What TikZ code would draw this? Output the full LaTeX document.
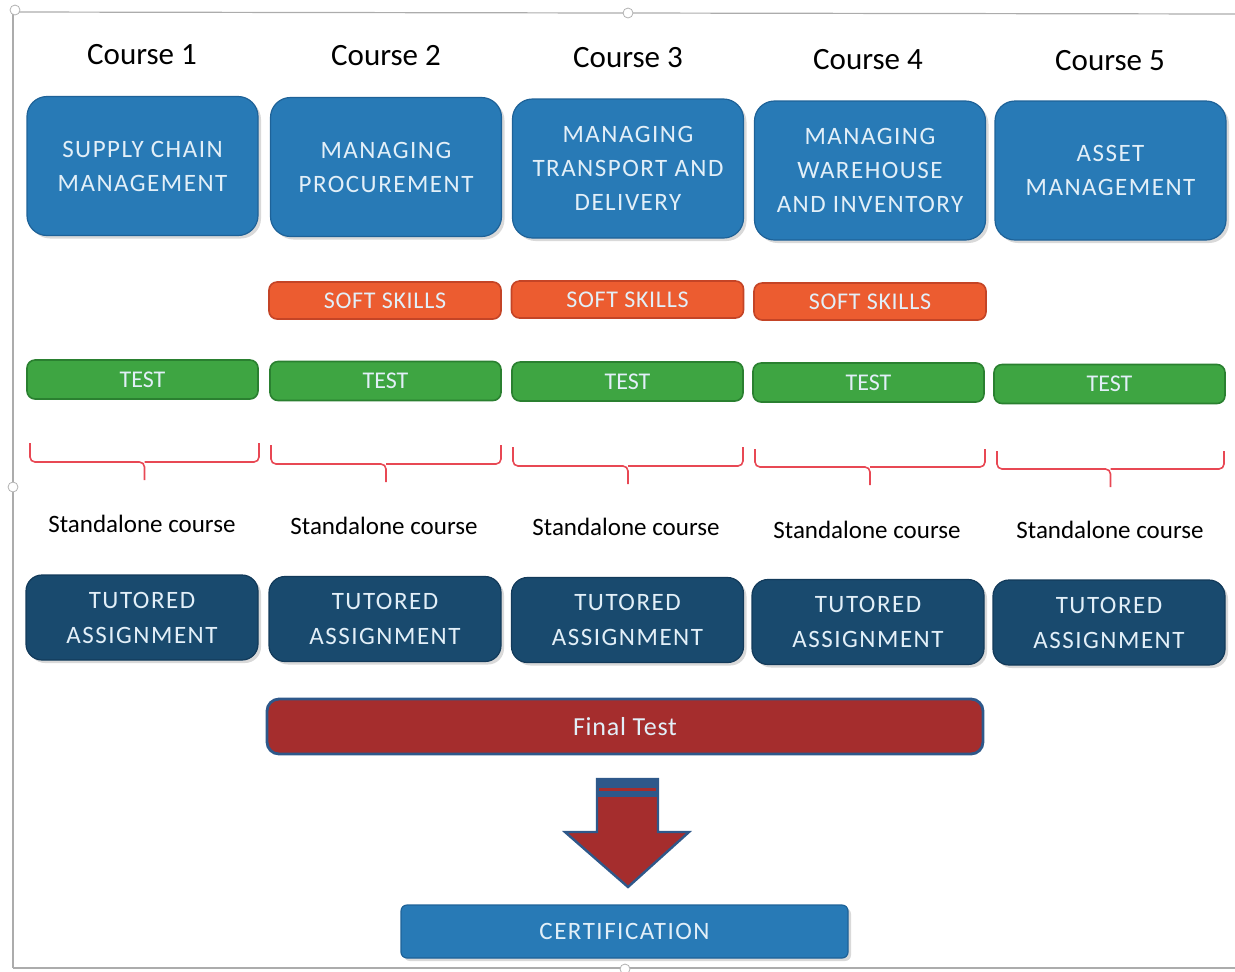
\documentclass[tikz,border=0pt]{standalone}
\usepackage{fontspec}
\setmainfont{Carlito}
\newfontfamily\capsfam[LetterSpace=6]{Carlito}
\newfontfamily\capsfamb[LetterSpace=3]{Carlito}
\usetikzlibrary{shadows}
\definecolor{cblue}{RGB}{40,122,182}
\definecolor{cblueb}{RGB}{30,98,152}
\definecolor{cnavy}{RGB}{25,74,110}
\definecolor{cnavyb}{RGB}{18,58,90}
\definecolor{corange}{RGB}{236,92,48}
\definecolor{corangeb}{RGB}{196,68,38}
\definecolor{cgreen}{RGB}{62,165,66}
\definecolor{cgreenb}{RGB}{42,128,48}
\definecolor{cred}{RGB}{165,45,45}
\definecolor{cframe}{RGB}{46,88,138}
\definecolor{cbrace}{RGB}{232,72,84}
\definecolor{boxtext}{RGB}{226,239,248}
\tikzset{
  shadowed/.style={drop shadow={opacity=0.3, shadow xshift=1.5pt, shadow yshift=-1.5pt}},
  coursebox/.style={shadowed, draw=cblueb, line width=0.6pt, fill=cblue, rounded corners=10pt,
    minimum width=115.5pt, minimum height=69.5pt, align=center, text=boxtext, inner sep=0pt,
    font=\capsfam\fontsize{12.5}{17}\selectfont},
  tutorbox/.style={shadowed, draw=cnavyb, line width=0.6pt, fill=cnavy, rounded corners=8pt,
    minimum width=116pt, minimum height=42.5pt, align=center, text=boxtext, inner sep=0pt,
    font=\capsfam\fontsize{12.5}{17.5}\selectfont},
  softbox/.style={draw=corangeb, line width=0.8pt, fill=corange, rounded corners=4pt,
    minimum width=116pt, minimum height=18.5pt, text=boxtext, inner sep=0pt,
    font=\capsfamb\fontsize{12}{14}\selectfont},
  testbox/.style={draw=cgreenb, line width=0.8pt, fill=cgreen, rounded corners=4pt,
    minimum width=115.5pt, minimum height=19.5pt, text=boxtext, inner sep=0pt,
    font=\fontsize{12}{14}\selectfont},
  courselabel/.style={inner sep=0pt, font=\fontsize{15.5}{18}\selectfont},
  standlabel/.style={inner sep=0pt, font=\fontsize{12.5}{15}\selectfont},
  bracepath/.style={draw=cbrace, line width=0.8pt, rounded corners=2.5pt},
  finalbox/.style={draw=cframe, line width=1.4pt, fill=cred, rounded corners=6pt,
    minimum width=358pt, minimum height=27.5pt, text=boxtext, inner sep=0pt,
    font=\capsfamb\fontsize{13}{15}\selectfont},
  certbox/.style={shadowed, draw=cblueb, line width=0.6pt, fill=cblue, rounded corners=3pt,
    minimum width=223.5pt, minimum height=26.5pt, text=boxtext, inner sep=0pt,
    font=\capsfam\fontsize{12.5}{15}\selectfont},
  handle/.style={draw=gray!60, fill=white, line width=0.4pt},
  framel/.style={draw=gray!65, line width=0.6pt}
}
\begin{document}
\begin{tikzpicture}[x=0.5pt, y=-0.5pt]
\useasboundingbox (0,0) rectangle (1235,971);
% frame
\draw[framel] (13,12) -- (1235,14);
\draw[framel] (13,12) -- (13,968);
\draw[framel] (13,968) -- (1235,968);
\draw[handle] (15,10) circle (2.5pt);
\draw[handle] (628,13) circle (2.5pt);
\draw[handle] (13,487) circle (2.5pt);
\draw[handle] (625,969) circle (2.5pt);

% course labels
\node[courselabel] (l1) at (142,55) {Course 1};
\node[courselabel] (l2) at (386,56) {Course 2};
\node[courselabel] (l3) at (628,58) {Course 3};
\node[courselabel] (l4) at (868,60) {Course 4};
\node[courselabel] (l5) at (1110,61) {Course 5};

% course boxes
\node[coursebox] (c1) at (142.5,166) {SUPPLY CHAIN\\MANAGEMENT};
\node[coursebox] (c2) at (386,167) {MANAGING\\PROCUREMENT};
\node[coursebox] (c3) at (628,168.5) {MANAGING\\TRANSPORT AND\\DELIVERY};
\node[coursebox] (c4) at (870,170.5) {MANAGING\\WAREHOUSE\\AND INVENTORY};
\node[coursebox] (c5) at (1110.5,170.5) {ASSET\\MANAGEMENT};

% soft skills
\node[softbox] (s2) at (385,300.5) {SOFT SKILLS};
\node[softbox] (s3) at (627.5,299.5) {SOFT SKILLS};
\node[softbox] (s4) at (870,301.5) {SOFT SKILLS};

% tests
\node[testbox] (t1) at (142.5,379.5) {TEST};
\node[testbox] (t2) at (385.5,381) {TEST};
\node[testbox] (t3) at (627.5,381.5) {TEST};
\node[testbox] (t4) at (868.5,382.5) {TEST};
\node[testbox] (t5) at (1109.5,384) {TEST};

% braces
\foreach \xa/\xb/\ya/\yb/\yc in {30/259/443/462/480, 271/501/445/464/482, 513/743/447/466/484, 755/985/449/467/485, 997/1224/451/469/487}{
  \draw[bracepath] (\xa,\ya) |- ({(\xa+\xb)/2},\yb) -- ({(\xa+\xb)/2},\yc);
  \draw[bracepath] ({(\xa+\xb)/2},\yb) -| (\xb,\ya);
}

% standalone labels
\node[standlabel] (a1) at (142,524) {Standalone course};
\node[standlabel] (a2) at (384,526) {Standalone course};
\node[standlabel] (a3) at (626,527) {Standalone course};
\node[standlabel] (a4) at (867,530) {Standalone course};
\node[standlabel] (a5) at (1110,530) {Standalone course};

% tutored assignments
\node[tutorbox] (u1) at (142,617.5) {TUTORED\\ASSIGNMENT};
\node[tutorbox] (u2) at (385,619) {TUTORED\\ASSIGNMENT};
\node[tutorbox] (u3) at (627.5,620) {TUTORED\\ASSIGNMENT};
\node[tutorbox] (u4) at (868,622) {TUTORED\\ASSIGNMENT};
\node[tutorbox] (u5) at (1109,622.5) {TUTORED\\ASSIGNMENT};

% final test
\node[finalbox] (ft) at (625,726.5) {Final Test};

% block arrow
\draw[draw=cframe, fill=cred, line width=1.2pt, line join=miter]
  (597,779) -- (658,779) -- (658,832) -- (689,832) -- (628,887) -- (565,832) -- (597,832) -- cycle;
\fill[cframe] (597,779) rectangle (658,797);
\fill[cred] (599,788) rectangle (656,791);

% certification
\node[certbox] (ce) at (624.5,931.5) {CERTIFICATION};
\end{tikzpicture}
\end{document}
